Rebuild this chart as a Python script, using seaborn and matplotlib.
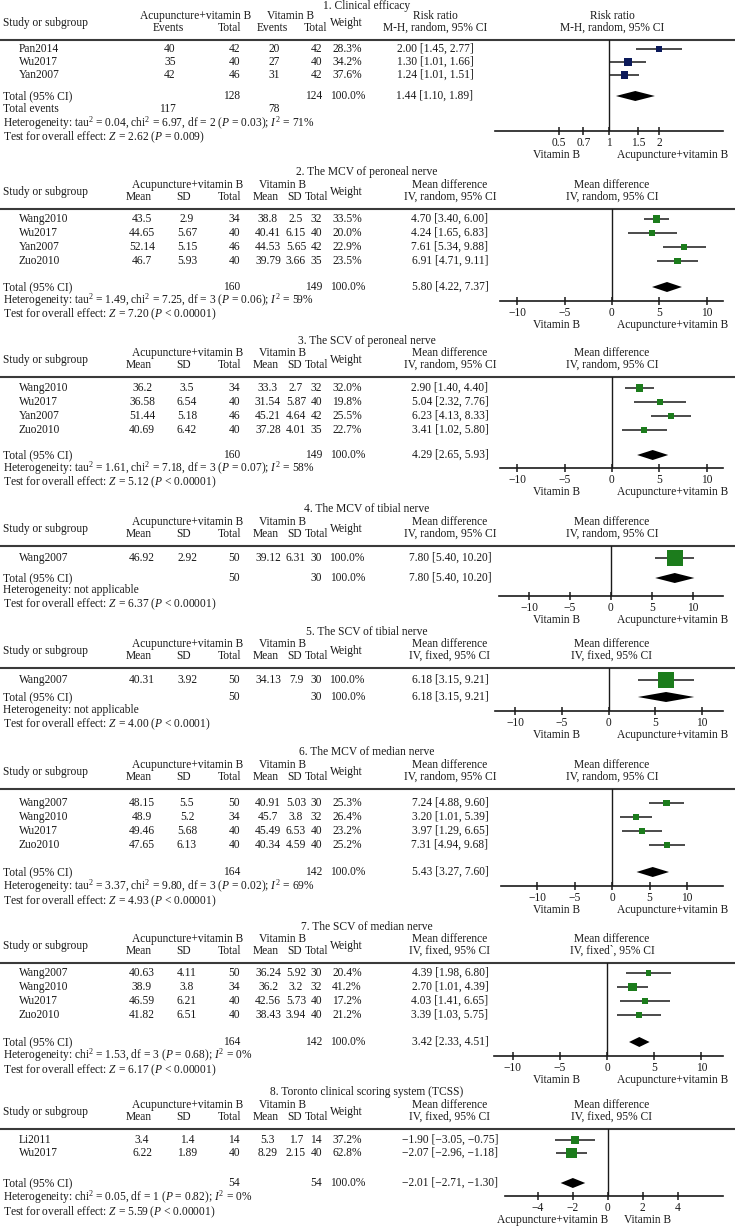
import matplotlib
matplotlib.use('Agg')
import matplotlib.pyplot as plt
import seaborn as sns
import numpy as np

sns.set_theme(style='white')
plt.rcParams['font.family'] = ['Liberation Serif', 'DejaVu Serif']
plt.rcParams['mathtext.fontset'] = 'custom'
plt.rcParams['mathtext.rm'] = 'Liberation Serif'
plt.rcParams['mathtext.it'] = 'Liberation Serif:italic'

# ---------------- data ----------------
# 1. Clinical efficacy (risk ratio)
p1_study = ['Pan2014', 'Wu2017', 'Yan2007']
p1_events_a = [40, 35, 42]
p1_total_a = [42, 40, 46]
p1_events_b = [20, 27, 31]
p1_total_b = [42, 40, 42]
p1_weight = [28.3, 34.2, 37.6]
p1_est = [2.00, 1.30, 1.24]
p1_lo = [1.45, 1.01, 1.01]
p1_hi = [2.77, 1.66, 1.51]
p1_pooled = [1.44, 1.10, 1.89]
p1_sum_n = [128, 124]
p1_sum_events = [117, 78]

# 2. The MCV of peroneal nerve
p2_study = ['Wang2010', 'Wu2017', 'Yan2007', 'Zuo2010']
p2_mean_a = [43.5, 44.65, 52.14, 46.7]
p2_sd_a = [2.9, 5.67, 5.15, 5.93]
p2_n_a = [34, 40, 46, 40]
p2_mean_b = [38.8, 40.41, 44.53, 39.79]
p2_sd_b = [2.5, 6.15, 5.65, 3.66]
p2_n_b = [32, 40, 42, 35]
p2_weight = [33.5, 20.0, 22.9, 23.5]
p2_est = [4.70, 4.24, 7.61, 6.91]
p2_lo = [3.40, 1.65, 5.34, 4.71]
p2_hi = [6.00, 6.83, 9.88, 9.11]
p2_pooled = [5.80, 4.22, 7.37]
p2_sum_n = [160, 149]

# 3. The SCV of peroneal nerve
p3_study = ['Wang2010', 'Wu2017', 'Yan2007', 'Zuo2010']
p3_mean_a = [36.2, 36.58, 51.44, 40.69]
p3_sd_a = [3.5, 6.54, 5.18, 6.42]
p3_n_a = [34, 40, 46, 40]
p3_mean_b = [33.3, 31.54, 45.21, 37.28]
p3_sd_b = [2.7, 5.87, 4.64, 4.01]
p3_n_b = [32, 40, 42, 35]
p3_weight = [32.0, 19.8, 25.5, 22.7]
p3_est = [2.90, 5.04, 6.23, 3.41]
p3_lo = [1.40, 2.32, 4.13, 1.02]
p3_hi = [4.40, 7.76, 8.33, 5.80]
p3_pooled = [4.29, 2.65, 5.93]
p3_sum_n = [160, 149]

# 4. The MCV of tibial nerve
p4_study = ['Wang2007']
p4_mean_a = [46.92]
p4_sd_a = [2.92]
p4_n_a = [50]
p4_mean_b = [39.12]
p4_sd_b = [6.31]
p4_n_b = [30]
p4_weight = [100.0]
p4_est = [7.80]
p4_lo = [5.40]
p4_hi = [10.20]
p4_pooled = [7.80, 5.40, 10.20]
p4_sum_n = [50, 30]

# 5. The SCV of tibial nerve
p5_study = ['Wang2007']
p5_mean_a = [40.31]
p5_sd_a = [3.92]
p5_n_a = [50]
p5_mean_b = [34.13]
p5_sd_b = [7.9]
p5_n_b = [30]
p5_weight = [100.0]
p5_est = [6.18]
p5_lo = [3.15]
p5_hi = [9.21]
p5_pooled = [6.18, 3.15, 9.21]
p5_sum_n = [50, 30]

# 6. The MCV of median nerve
p6_study = ['Wang2007', 'Wang2010', 'Wu2017', 'Zuo2010']
p6_mean_a = [48.15, 48.9, 49.46, 47.65]
p6_sd_a = [5.5, 5.2, 5.68, 6.13]
p6_n_a = [50, 34, 40, 40]
p6_mean_b = [40.91, 45.7, 45.49, 40.34]
p6_sd_b = [5.03, 3.8, 6.53, 4.59]
p6_n_b = [30, 32, 40, 40]
p6_weight = [25.3, 26.4, 23.2, 25.2]
p6_est = [7.24, 3.20, 3.97, 7.31]
p6_lo = [4.88, 1.01, 1.29, 4.94]
p6_hi = [9.60, 5.39, 6.65, 9.68]
p6_pooled = [5.43, 3.27, 7.60]
p6_sum_n = [164, 142]

# 7. The SCV of median nerve
p7_study = ['Wang2007', 'Wang2010', 'Wu2017', 'Zuo2010']
p7_mean_a = [40.63, 38.9, 46.59, 41.82]
p7_sd_a = [4.11, 3.8, 6.21, 6.51]
p7_n_a = [50, 34, 40, 40]
p7_mean_b = [36.24, 36.2, 42.56, 38.43]
p7_sd_b = [5.92, 3.2, 5.73, 3.94]
p7_n_b = [30, 32, 40, 40]
p7_weight = [20.4, 41.2, 17.2, 21.2]
p7_est = [4.39, 2.70, 4.03, 3.39]
p7_lo = [1.98, 1.01, 1.41, 1.03]
p7_hi = [6.80, 4.39, 6.65, 5.75]
p7_pooled = [3.42, 2.33, 4.51]
p7_sum_n = [164, 142]

# 8. Toronto clinical scoring system (TCSS)
p8_study = ['Li2011', 'Wu2017']
p8_mean_a = [3.4, 6.22]
p8_sd_a = [1.4, 1.89]
p8_n_a = [14, 40]
p8_mean_b = [5.3, 8.29]
p8_sd_b = [1.7, 2.15]
p8_n_b = [14, 40]
p8_weight = [37.2, 62.8]
p8_est = [-1.90, -2.07]
p8_lo = [-3.05, -2.96]
p8_hi = [-0.75, -1.18]
p8_pooled = [-2.01, -2.71, -1.30]
p8_sum_n = [54, 54]

titles = ['1. Clinical efficacy', '2. The MCV of peroneal nerve', '3. The SCV of peroneal nerve',
          '4. The MCV of tibial nerve', '5. The SCV of tibial nerve', '6. The MCV of median nerve',
          '7. The SCV of median nerve', '8. Toronto clinical scoring system (TCSS)']
methods = ['M-H, random, 95% CI', 'IV, random, 95% CI', 'IV, random, 95% CI', 'IV, random, 95% CI',
           'IV, fixed, 95% CI', 'IV, random, 95% CI', 'IV, fixed, 95% CI', 'IV, fixed, 95% CI']
plot_methods = methods[:6] + ['IV, fixed`, 95% CI', 'IV, fixed, 95% CI']
heterogeneity = [
    'Heterogeneity: tau$^2$ = 0.04, chi$^2$ = 6.97, df = 2 ($P$ = 0.03); $I^2$ = 71%',
    'Heterogeneity: tau$^2$ = 1.49, chi$^2$ = 7.25, df = 3 ($P$ = 0.06); $I^2$ = 59%',
    'Heterogeneity: tau$^2$ = 1.61, chi$^2$ = 7.18, df = 3 ($P$ = 0.07); $I^2$ = 58%',
    'Heterogeneity: not applicable',
    'Heterogeneity: not applicable',
    'Heterogeneity: tau$^2$ = 3.37, chi$^2$ = 9.80, df = 3 ($P$ = 0.02); $I^2$ = 69%',
    'Heterogeneity: chi$^2$ = 1.53, df = 3 ($P$ = 0.68); $I^2$ = 0%',
    'Heterogeneity: chi$^2$ = 0.05, df = 1 ($P$ = 0.82); $I^2$ = 0%',
]
overall = [
    'Test for overall effect: $Z$ = 2.62 ($P$ = 0.009)',
    'Test for overall effect: $Z$ = 7.20 ($P$ < 0.00001)',
    'Test for overall effect: $Z$ = 5.12 ($P$ < 0.00001)',
    'Test for overall effect: $Z$ = 6.37 ($P$ < 0.00001)',
    'Test for overall effect: $Z$ = 4.00 ($P$ < 0.0001)',
    'Test for overall effect: $Z$ = 4.93 ($P$ < 0.00001)',
    'Test for overall effect: $Z$ = 6.17 ($P$ < 0.00001)',
    'Test for overall effect: $Z$ = 5.59 ($P$ < 0.00001)',
]

# ---------------- layout (pixels) ----------------
W, H = 735, 1227
title_y = [6, 172, 341, 509, 632, 752, 927, 1092]
line_y = [40, 209, 377, 546, 668, 789, 963, 1129]
row_y = [[49, 62, 75], [219, 233, 247, 261], [388, 402, 416, 430], [558], [680],
         [803, 817, 831, 845], [973, 987, 1001, 1015], [1140, 1153]]
total_y = [96, 287, 455, 578, 697, 872, 1042, 1183]
het_y = [123, 300, 468, 590, 710, 886, 1055, 1197]
test_y = [137, 314, 482, 604, 724, 901, 1070, 1212]
axis_y = [131, 301, 468, 596, 711, 886, 1056, 1196]
axis_x = [(495, 723), (500, 723), (500, 723), (499, 723), (495, 723), (501, 723), (494, 723), (505, 723)]
xlims = [(0.205, 4.87), (-11.8, 11.7), (-11.8, 11.7), (-13.7, 13.7), (-12.2, 12.3),
         (-14.8, 14.8), (-12.0, 12.3), (-5.9, 6.6)]
ticks = [[0.5, 0.7, 1, 1.5, 2]] + [[-10, -5, 0, 5, 10]] * 6 + [[-4, -2, 0, 2, 4]]
tick_labels = [['0.5', '0.7', '1', '1.5', '2']] + [['\u221210', '\u22125', '0', '5', '10']] * 6 + \
              [['\u22124', '\u22122', '0', '2', '4']]

FS = 8.3
TXT = '#1a1a1a'
NAVY = '#0c1a5a'
GREEN = '#1c7c1c'

fig = plt.figure(figsize=(W / 100, H / 100), dpi=100)
bg = fig.add_axes([0, 0, 1, 1])
bg.set_xlim(0, W)
bg.set_ylim(H, 0)
bg.axis('off')


def txt(x, y, s, ha='left'):
    bg.text(x, y, s, ha=ha, va='center', fontsize=FS, color=TXT)


def ci_str(e, l, h):
    return f'{e:.2f} [{l:.2f}, {h:.2f}]'.replace('-', '\u2212')


def num(v):
    return f'{v:g}'


for k in range(8):
    ly = line_y[k]
    ys = row_y[k]
    rr = (k == 0)
    txt(367, title_y[k], titles[k], 'center')
    txt(3, ly - 17, 'Study or subgroup')
    txt(346, ly - 17, 'Weight', 'center')
    ci_x = 435 if rr else 450
    label = 'Risk ratio' if rr else 'Mean difference'
    txt(ci_x, ly - 24, label, 'center')
    txt(ci_x, ly - 12, methods[k], 'center')
    txt(612, ly - 24, label, 'center')
    txt(612, ly - 12, plot_methods[k], 'center')
    bg.plot([0, W], [ly, ly], color='#3a3a3a', lw=1.5)

    if rr:
        txt(196, ly - 24, 'Acupuncture+vitamin B', 'center')
        txt(291, ly - 24, 'Vitamin B', 'center')
        txt(168, ly - 12, 'Events', 'center')
        txt(241, ly - 12, 'Total', 'right')
        txt(272, ly - 12, 'Events', 'center')
        txt(316, ly - 12, 'Total', 'center')
        study, weight = p1_study, p1_weight
        est, lo, hi, pooled, sum_n = p1_est, p1_lo, p1_hi, p1_pooled, p1_sum_n
        for i, y in enumerate(ys):
            txt(170, y, str(p1_events_a[i]), 'center')
            txt(240, y, str(p1_total_a[i]), 'right')
            txt(274, y, str(p1_events_b[i]), 'center')
            txt(322, y, str(p1_total_b[i]), 'right')
        txt(3, total_y[k] + 13, 'Total events')
        txt(167, total_y[k] + 13, str(p1_sum_events[0]), 'center')
        txt(274, total_y[k] + 13, str(p1_sum_events[1]), 'center')
    else:
        d = globals()
        pre = f'p{k + 1}_'
        study, weight = d[pre + 'study'], d[pre + 'weight']
        est, lo, hi = d[pre + 'est'], d[pre + 'lo'], d[pre + 'hi']
        pooled, sum_n = d[pre + 'pooled'], d[pre + 'sum_n']
        txt(188, ly - 24, 'Acupuncture+vitamin B', 'center')
        txt(283, ly - 24, 'Vitamin B', 'center')
        txt(139, ly - 12, 'Mean', 'center')
        txt(184, ly - 12, 'SD', 'center')
        txt(241, ly - 12, 'Total', 'right')
        txt(266, ly - 12, 'Mean', 'center')
        txt(295, ly - 12, 'SD', 'center')
        txt(317, ly - 12, 'Total', 'center')
        for i, y in enumerate(ys):
            txt(142, y, num(d[pre + 'mean_a'][i]), 'center')
            txt(187, y, num(d[pre + 'sd_a'][i]), 'center')
            txt(240, y, str(d[pre + 'n_a'][i]), 'right')
            txt(268, y, num(d[pre + 'mean_b'][i]), 'center')
            txt(296, y, num(d[pre + 'sd_b'][i]), 'center')
            txt(322, y, str(d[pre + 'n_b'][i]), 'right')

    for i, y in enumerate(ys):
        txt(19, y, study[i])
        txt(347, y, f'{weight[i]:.1f}%', 'center')
        txt(ci_x, y, ci_str(est[i], lo[i], hi[i]), 'center')
    ty = total_y[k]
    txt(3, ty, 'Total (95% CI)')
    txt(240, ty, str(sum_n[0]), 'right')
    txt(322, ty, str(sum_n[1]), 'right')
    txt(348, ty, '100.0%', 'center')
    txt(ci_x, ty, ci_str(*pooled), 'center')
    txt(3, het_y[k], heterogeneity[k])
    txt(3, test_y[k], overall[k])

    # forest plot
    ay = axis_y[k]
    x0, x1 = axis_x[k]
    ax = fig.add_axes([x0 / W, 1 - ay / H, (x1 - x0) / W, (ay - ly) / H])
    ax.patch.set_alpha(0)
    if rr:
        ax.set_xscale('log')
    ax.set_xlim(*xlims[k])
    ax.set_ylim(ay, ly)
    sns.despine(ax=ax, left=True)
    ax.spines['bottom'].set_color('#1a1a1a')
    ax.spines['bottom'].set_linewidth(1.2)
    ax.set_yticks([])
    ax.set_xticks(ticks[k])
    ax.set_xticklabels(tick_labels[k], fontsize=FS, color=TXT)
    ax.minorticks_off()
    ax.tick_params(axis='x', bottom=True, direction='inout', length=6, width=1.1,
                   color='#1a1a1a', pad=1)
    ref = 1 if rr else 0
    ax.axvline(ref, color='#1a1a1a', lw=1.0, zorder=1)
    ax.hlines(ys, lo, hi, color='#1a1a1a', lw=1.1, zorder=2)
    sizes = [(2.5 + 0.085 * w) ** 2 for w in weight]
    sns.scatterplot(x=est, y=ys, marker='s', s=sizes, color=NAVY if rr else GREEN,
                    linewidth=0, ax=ax, legend=False, zorder=3)
    e, l, h = pooled
    ax.fill([l, e, h, e], [ty, ty - 5, ty, ty + 5], color='black', zorder=3, lw=0)
    ax.set_xlabel('')
    ax.set_ylabel('')

    if k == 7:
        txt(553, ay + 24, 'Acupuncture+vitamin B', 'center')
        txt(648, ay + 24, 'Vitamin B', 'center')
    else:
        txt(557, ay + 24, 'Vitamin B', 'center')
        txt(673, ay + 24, 'Acupuncture+vitamin B', 'center')

fig.savefig('out.png', dpi=100)
